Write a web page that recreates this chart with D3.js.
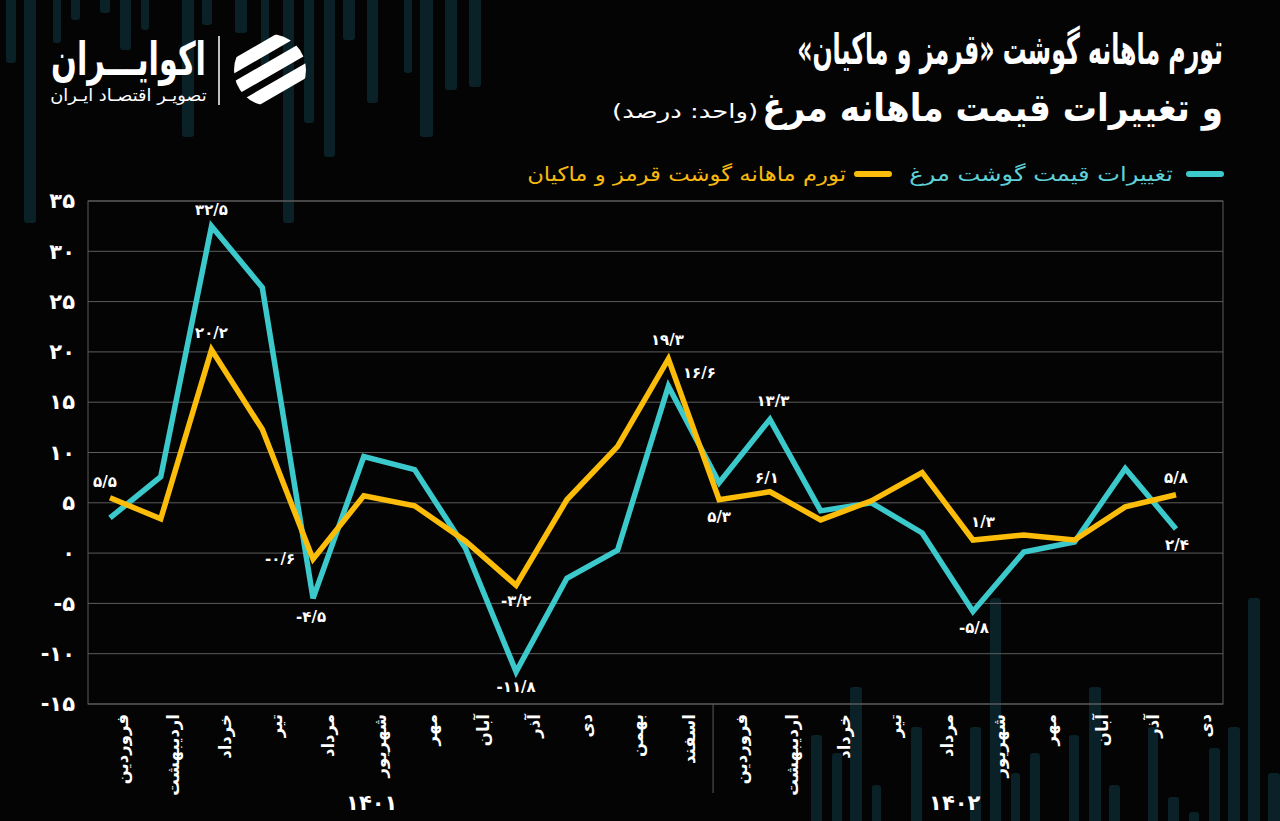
<!DOCTYPE html>
<html><head><meta charset="utf-8">
<script src="https://cdn.jsdelivr.net/npm/d3@7"></script>
<style>
html,body{margin:0;padding:0;background:#040404;}
svg{display:block;}
text{font-family:"DejaVu Sans",sans-serif;}
</style></head><body>
<svg id="c" width="1280" height="821"></svg>
<script>
// ---------- DATA ----------
const months = ["فروردین","اردیبهشت","خرداد","تیر","مرداد","شهریور","مهر","آبان","آذر","دی","بهمن","اسفند",
                "فروردین","اردیبهشت","خرداد","تیر","مرداد","شهریور","مهر","آبان","آذر","دی"];
const years = ["۱۴۰۱","۱۴۰۲"];
const yTicks = [-15,-10,-5,0,5,10,15,20,25,30,35];
const chickenPrice  = [3.5,7.6,32.5,26.4,-4.5,9.6,8.3,0.5,-11.8,-2.5,0.3,16.6,7.0,13.3,4.2,5.0,2.0,-5.8,0.1,1.1,8.4,2.4];
const meatInflation = [5.5,3.4,20.2,12.3,-0.6,5.7,4.7,1.2,-3.2,5.3,10.6,19.3,5.3,6.1,3.3,5.2,8.0,1.3,1.8,1.3,4.6,5.8];
const seriesNames = ["تغییرات قیمت گوشت مرغ","تورم ماهانه گوشت قرمز و ماکیان"];
const labeledChicken = [2,4,8,11,13,17,21];
const labeledMeat = [0,2,4,8,11,12,13,17,21];

// ---------- LAYOUT ----------
const W=1280,H=821;
const plot={l:88,r:1223,t:201,b:704};
const teal="#3cc9cc", yellow="#fcbc0a";
const labelOffChicken={2:[0,-16],4:[-2,19],8:[0,15],11:[31,-13],13:[3,-18],17:[1,17],21:[1,16]};
const labelOffMeat={0:[-5,-16],2:[0,-17],4:[-33,0],8:[0,16],11:[-1,-19],12:[0,17],13:[-3,-14],17:[10,-18],21:[0,-17]};

const fa = s => String(s).replace(/[0-9]/g, d => "۰۱۲۳۴۵۶۷۸۹"[d]);
const fmt = v => (v<0?"-":"") + fa(Math.abs(v).toFixed(1).replace(".","/"));
const faInt = v => (v<0?"-":"") + fa(Math.abs(v));

const svg=d3.select("#c");
svg.append("rect").attr("width",W).attr("height",H).attr("fill","#040404");

// decorative background bars
const decoTop=[[6,10,63],[24,12,223],[53,8,43],[71,9,20],[100,10,13],[120,11,50],[141,8,30],[182,12,137],[202,10,25],[235,12,33],[261,8,67],[283,11,223],[304,10,123],[324,11,157],[343,12,40],[367,11,103],[404,8,73],[420,13,137],[445,12,90],[469,12,87]];
const decoBot=[[811,11,735],[832,10,753],[850,12,687],[872,9,785],[911,11,727],[970,11,727],[990,11,598],[1011,9,773],[1030,10,753],[1069,10,735],[1089,12,687],[1109,11,785],[1148,10,727],[1168,11,797],[1189,10,812],[1209,11,748],[1228,12,727],[1248,12,598],[1268,12,773]];
svg.append("g").selectAll("rect").data(decoTop).join("rect")
  .attr("x",d=>d[0]).attr("y",-5).attr("width",d=>d[1]).attr("height",d=>d[2]+5).attr("rx",3).attr("fill","#0a2128");
svg.append("g").selectAll("rect").data(decoBot).join("rect")
  .attr("x",d=>d[0]).attr("y",d=>d[2]).attr("width",d=>d[1]).attr("height",d=>H-d[2]+5).attr("rx",3).attr("fill","#0a2128");

// ---------- SCALES ----------
const idx=d3.range(months.length);
const x=d3.scalePoint().domain(idx).range([110,1176]);
const xb=d3.scaleBand().domain(idx).range([plot.l,plot.r]);
const y=d3.scaleLinear().domain([-15,35]).range([plot.b,plot.t]);

// grid
svg.append("g").selectAll("line").data(yTicks).join("line")
  .attr("x1",plot.l).attr("x2",plot.r).attr("y1",d=>y(d)).attr("y2",d=>y(d))
  .attr("stroke","#5c5c5c").attr("stroke-width",1);
svg.append("rect").attr("x",plot.l).attr("y",plot.t).attr("width",plot.r-plot.l).attr("height",plot.b-plot.t)
  .attr("fill","none").attr("stroke","#5c5c5c").attr("stroke-width",1);

// y axis labels
const yAxis=d3.axisLeft(y).tickValues(yTicks).tickFormat(faInt).tickSize(0).tickPadding(13);
const ya=svg.append("g").attr("transform",`translate(${plot.l},0)`).call(yAxis);
ya.select(".domain").remove();
ya.selectAll("text").attr("fill","#fff").attr("font-size",21).attr("font-weight","bold")
  .attr("font-family","DejaVu Sans").attr("direction","ltr");

// x labels
svg.append("g").selectAll("text").data(idx).join("text")
  .attr("transform",i=>`translate(${xb(i)+xb.bandwidth()/2+8},${plot.b+10}) rotate(-90)`)
  .attr("direction","rtl").attr("text-anchor","start").attr("dy","0.35em")
  .attr("fill","#fff").attr("font-size",16.5).attr("font-weight","bold")
  .text(i=>months[i]);

// year divider and labels
const divX=xb(12)+6;
svg.append("line").attr("x1",divX).attr("x2",divX).attr("y1",plot.b).attr("y2",793).attr("stroke","#5c5c5c");
const yearPos=[5.5,16.8];
svg.append("g").selectAll("text").data(years).join("text")
  .attr("x",(d,i)=>plot.l+yearPos[i]*xb.step()).attr("y",810)
  .attr("text-anchor","middle").attr("direction","ltr")
  .attr("fill","#fff").attr("font-size",21).attr("font-weight","bold").text(d=>d);

// lines
const line=d3.line().x((d,i)=>x(i)).y(d=>y(d));
svg.append("path").datum(chickenPrice).attr("d",line).attr("fill","none").attr("stroke",teal).attr("stroke-width",5.5).attr("stroke-linejoin","miter").attr("stroke-miterlimit",3);
svg.append("path").datum(meatInflation).attr("d",line).attr("fill","none").attr("stroke",yellow).attr("stroke-width",5.5).attr("stroke-linejoin","miter").attr("stroke-miterlimit",3);

// value labels
function addLabels(vals, list, off){
  svg.append("g").selectAll("text").data(list).join("text")
    .attr("x",i=>x(i)+off[i][0]).attr("y",i=>y(vals[i])+off[i][1])
    .attr("dominant-baseline","central").attr("text-anchor","middle").attr("direction","ltr")
    .attr("fill","#fff").attr("font-size",15).attr("font-weight","bold")
    .text(i=>fmt(vals[i]));
}
addLabels(chickenPrice,labeledChicken,labelOffChicken);
addLabels(meatInflation,labeledMeat,labelOffMeat);

// fit helper: right edge at rx, baseline at by, scaled horizontally to target width
function fitText(txt, rx, by, size, target, attrs, sy){
  const g=svg.append("g");
  const t=g.append("text").attr("x",0).attr("y",0).attr("direction","rtl").attr("text-anchor","start")
    .attr("font-size",size).text(txt);
  Object.entries(attrs||{}).forEach(([k,v])=>t.attr(k,v));
  const bb=t.node().getBBox();
  const sx=target/bb.width;
  g.attr("transform",`translate(${rx - (bb.x+bb.width)*sx},${by}) scale(${sx},${sy||1})`);
  return t;
}

// title
fitText("تورم ماهانه گوشت «قرمز و ماکیان»",1223,64,34,426,{fill:"#fff","font-weight":"bold"},1.25);
fitText("و تغییرات قیمت ماهانه مرغ",1223,121,35,461,{fill:"#fff","font-weight":"bold"},1.1);
fitText("(واحد: درصد)",758,118,20,146,{fill:"#fff"});

// legend
svg.append("line").attr("x1",1189).attr("x2",1221).attr("y1",174).attr("y2",174).attr("stroke",teal).attr("stroke-width",6).attr("stroke-linecap","round");
fitText(seriesNames[0],1173,181,20,264,{fill:"#5fd0d6"});
svg.append("line").attr("x1",857).attr("x2",889).attr("y1",174).attr("y2",174).attr("stroke",yellow).attr("stroke-width",6).attr("stroke-linecap","round");
fitText(seriesNames[1],846,181,20,319,{fill:"#f7b90e"});

// logo
fitText("اکوایـــران",206,75,40,155,{fill:"#fff","font-weight":"bold"},1.15);
fitText("تصویـر اقتصـاد ایـران",207,101,17,157,{fill:"#fff"});
svg.append("line").attr("x1",219).attr("x2",219).attr("y1",36).attr("y2",105).attr("stroke","#fff").attr("stroke-width",1.5);
const defs=svg.append("defs");
defs.append("clipPath").attr("id","lc").append("circle").attr("cx",270).attr("cy",70).attr("r",36);
const ic=svg.append("g").attr("clip-path","url(#lc)");
[-22,-2,18].forEach(o=>{
  ic.append("rect").attr("x",200).attr("y",70+o-6).attr("width",140).attr("height",13).attr("rx",6)
    .attr("fill","#fff").attr("transform","rotate(-30,270,70)");
});
</script>
</body></html>
